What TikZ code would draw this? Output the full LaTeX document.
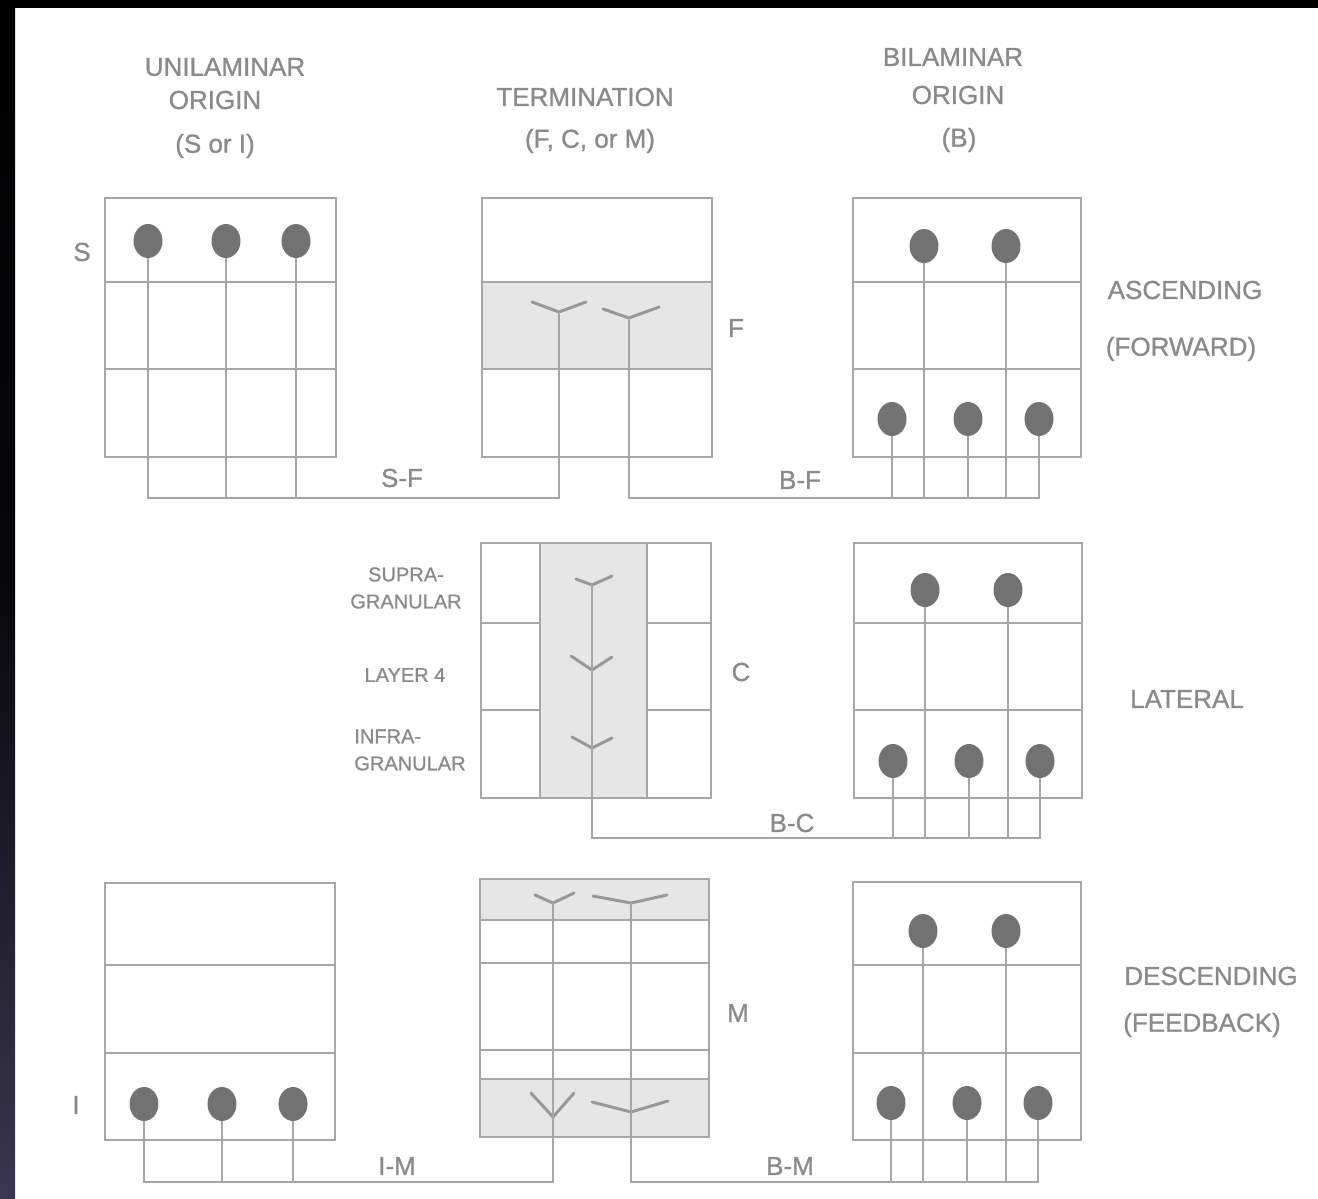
\documentclass[tikz,border=0pt]{standalone}
\usepackage{fontspec}
\setmainfont{Liberation Sans}[FakeBold=0.9]
\usetikzlibrary{shapes.geometric}
\definecolor{lc}{HTML}{A6A6A6}
\definecolor{tc}{HTML}{989898}
\definecolor{cellc}{HTML}{727272}
\definecolor{txc}{HTML}{8A8A8A}
\definecolor{shd}{HTML}{E6E6E6}
\definecolor{navy}{RGB}{58,54,82}
\tikzset{
  box/.style={draw=lc, line width=1.3pt},
  shade band/.style={fill=shd, draw=none},
  cell/.style={ellipse, fill=cellc, draw=none, minimum width=0.58cm, minimum height=0.68cm, inner sep=0pt},
  wire/.style={draw=lc, line width=1.3pt},
  term/.style={draw=tc, line width=1.7pt, line cap=round, line join=round},
  lab/.style={text=txc, font=\fontsize{14.8}{17}\selectfont, inner sep=0pt},
  small/.style={text=txc, font=\fontsize{11.4}{15.4}\selectfont, inner sep=0pt},
}
\begin{document}
\begin{tikzpicture}[x=0.02cm,y=-0.02cm]
\useasboundingbox (0,0) rectangle (1318,1199);
\fill[white] (0,0) rectangle (1318,1199);
% dark frame
\shade[top color=black, bottom color=navy, middle color=black!85!navy] (0,0) rectangle (15,1199);
\fill[black] (0,0) rectangle (1318,8);

% ---------- headers ----------
\node[lab] (h1a) at (225,67) {UNILAMINAR};
\node[lab] (h1b) at (215,100) {ORIGIN};
\node[lab] (h1c) at (215,146) {(S or I)};
\node[lab] (h2a) at (585,97) {TERMINATION};
\node[lab] (h2b) at (590,141) {(F, C, or M)};
\node[lab] (h3a) at (953,57) {BILAMINAR};
\node[lab] (h3b) at (958,95) {ORIGIN};
\node[lab] (h3c) at (959,140) {(B)};

% ---------- row 1 : ascending ----------
\draw[box] (105,198) rectangle (336,457);
\draw[box] (105,282) -- (336,282);
\draw[box] (105,369) -- (336,369);
\node[lab] (lS) at (82,252) {S};
\fill[shade band] (482,282) rectangle (712,369);
\draw[box] (482,198) rectangle (712,457);
\draw[box] (482,282) -- (712,282);
\draw[box] (482,369) -- (712,369);
\node[lab] (lF) at (736,328) {F};
\draw[box] (853,198) rectangle (1081,457);
\draw[box] (853,282) -- (1081,282);
\draw[box] (853,369) -- (1081,369);

\coordinate (jF1) at (559,312);
\coordinate (jF2) at (629,318);
\coordinate (bF1) at (559,498);
\coordinate (bF2) at (629,498);
\draw[term] (532,302) -- (jF1) -- (586,302);
\draw[term] (603,309) -- (jF2) -- (659,307);

\node[cell] (s1) at (148,241) {};
\node[cell] (s2) at (226,241) {};
\node[cell] (s3) at (296,241) {};
\node[cell] (au1) at (924,246) {};
\node[cell] (au2) at (1006,246) {};
\node[cell] (al1) at (892,419) {};
\node[cell] (al2) at (968,419) {};
\node[cell] (al3) at (1039,419) {};

\draw[wire] (jF1) -- (bF1) -| (s1.south);
\draw[wire] (s2.south) -- (s2.south |- bF1);
\draw[wire] (s3.south) -- (s3.south |- bF1);
\draw[wire] (jF2) -- (bF2) -| (al3.south);
\draw[wire] (al1.south) -- (al1.south |- bF2);
\draw[wire] (al2.south) -- (al2.south |- bF2);
\draw[wire] (au1.south) -- (au1.south |- bF2);
\draw[wire] (au2.south) -- (au2.south |- bF2);

\node[lab] (lSF) at (402,478) {S-F};
\node[lab] (lBF) at (800,480) {B-F};
\node[lab] (asc) at (1185,290) {ASCENDING};
\node[lab] (fwd) at (1181,349) {(FORWARD)};

% ---------- row 2 : lateral ----------
\fill[shade band] (540,543) rectangle (647,798);
\draw[box] (481,543) rectangle (711,798);
\draw[box] (540,543) -- (540,798);
\draw[box] (647,543) -- (647,798);
\draw[box] (481,623) -- (540,623);
\draw[box] (481,710) -- (540,710);
\draw[box] (647,623) -- (711,623);
\draw[box] (647,710) -- (711,710);
\node[lab] (lC) at (741,672) {C};

\node[small, align=center] (sup) at (406,588) {SUPRA-\\GRANULAR};
\node[small] (l4) at (405,675) {LAYER 4};
\node[small, align=left, anchor=west] (inf) at (354,750) {INFRA-\\GRANULAR};

\coordinate (jC1) at (592,585);
\coordinate (jC2) at (592,670);
\coordinate (jC3) at (592,748);
\coordinate (bC) at (592,838);
\draw[term] (576,579) -- (jC1) -- (612,576);
\draw[term] (571,656) -- (jC2) -- (612,657);
\draw[term] (572,737) -- (jC3) -- (612,738);

\draw[box] (854,543) rectangle (1082,798);
\draw[box] (854,623) -- (1082,623);
\draw[box] (854,710) -- (1082,710);

\node[cell] (cu1) at (925,590) {};
\node[cell] (cu2) at (1008,590) {};
\node[cell] (cl1) at (893,761) {};
\node[cell] (cl2) at (969,761) {};
\node[cell] (cl3) at (1040,761) {};

\draw[wire] (jC1) -- (bC) -| (cl3.south);
\draw[wire] (cl1.south) -- (cl1.south |- bC);
\draw[wire] (cl2.south) -- (cl2.south |- bC);
\draw[wire] (cu1.south) -- (cu1.south |- bC);
\draw[wire] (cu2.south) -- (cu2.south |- bC);

\node[lab] (lBC) at (792,823) {B-C};
\node[lab] (lat) at (1187,699) {LATERAL};

% ---------- row 3 : descending ----------
\draw[box] (105,883) rectangle (335,1140);
\draw[box] (105,965) -- (335,965);
\draw[box] (105,1053) -- (335,1053);
\node[lab] (lI) at (76,1105) {I};

\fill[shade band] (480,879) rectangle (709,920);
\fill[shade band] (480,1079) rectangle (709,1137);
\draw[box] (480,879) rectangle (709,1137);
\draw[box] (480,920) -- (709,920);
\draw[box] (480,963) -- (709,963);
\draw[box] (480,1050) -- (709,1050);
\draw[box] (480,1079) -- (709,1079);
\node[lab] (lM) at (738,1013) {M};

\coordinate (jM1) at (553,903);
\coordinate (jM2) at (631,903);
\coordinate (jM3) at (553,1117);
\coordinate (jM4) at (631,1112);
\coordinate (bM1) at (553,1182);
\coordinate (bM2) at (631,1182);
\draw[term] (535,895) -- (jM1) -- (574,893);
\draw[term] (593,896) -- (jM2) -- (667,895);
\draw[term] (531,1093) -- (jM3) -- (574,1093);
\draw[term] (592,1102) -- (jM4) -- (668,1101);

\draw[box] (853,882) rectangle (1081,1140);
\draw[box] (853,965) -- (1081,965);
\draw[box] (853,1053) -- (1081,1053);

\node[cell] (i1) at (144,1104) {};
\node[cell] (i2) at (222,1104) {};
\node[cell] (i3) at (293,1104) {};
\node[cell] (du1) at (923,931) {};
\node[cell] (du2) at (1006,931) {};
\node[cell] (dl1) at (891,1103) {};
\node[cell] (dl2) at (967,1103) {};
\node[cell] (dl3) at (1038,1103) {};

\draw[wire] (jM1) -- (bM1) -| (i1.south);
\draw[wire] (i2.south) -- (i2.south |- bM1);
\draw[wire] (i3.south) -- (i3.south |- bM1);
\draw[wire] (jM2) -- (bM2) -| (dl3.south);
\draw[wire] (dl1.south) -- (dl1.south |- bM2);
\draw[wire] (dl2.south) -- (dl2.south |- bM2);
\draw[wire] (du1.south) -- (du1.south |- bM2);
\draw[wire] (du2.south) -- (du2.south |- bM2);

\node[lab] (lIM) at (397,1166) {I-M};
\node[lab] (lBM) at (790,1166) {B-M};
\node[lab] (desc) at (1211,976) {DESCENDING};
\node[lab] (fb) at (1202,1025) {(FEEDBACK)};
\end{tikzpicture}
\end{document}
